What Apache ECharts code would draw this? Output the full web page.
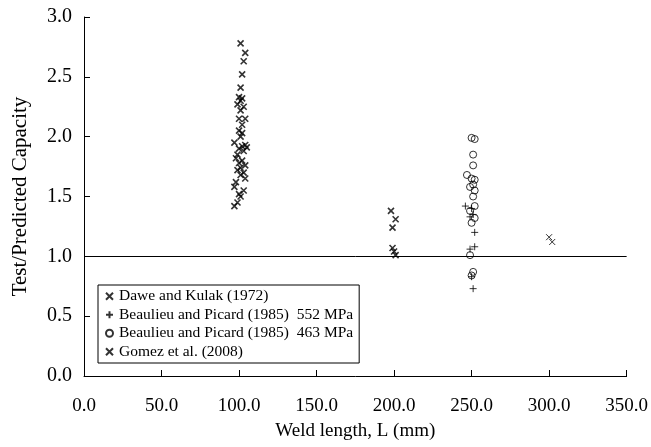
<!DOCTYPE html>
<html>
<head>
<meta charset="utf-8">
<script src="https://cdn.jsdelivr.net/npm/echarts@6/dist/echarts.min.js"></script>
<style>html,body{margin:0;padding:0;background:#fff}#c{width:651px;height:447px}</style>
</head>
<body>
<div id="c"></div>
<script>
// Dawe and Kulak (1972)
const daweX = [101,104,103,102,101,100,102,101,99,103,101,100,104,102,100,102,101,97,104,102,105,100,103,99,98,102,100,104,101,99,103,101,104,98,97,103,100,101,99,97,198,201,199,199,200,201];
const daweY = [2.78,2.70,2.63,2.52,2.41,2.33,2.32,2.30,2.27,2.25,2.22,2.15,2.15,2.10,2.05,2.03,2.00,1.95,1.93,1.92,1.91,1.90,1.88,1.85,1.82,1.80,1.78,1.76,1.74,1.72,1.70,1.68,1.65,1.62,1.58,1.55,1.52,1.50,1.45,1.42,1.38,1.31,1.24,1.07,1.04,1.01];
// Beaulieu and Picard (1985) 552 MPa
const bp552X = [246,250,251,249,252,252,249,250,251];
const bp552Y = [1.42,1.40,1.35,1.33,1.20,1.08,1.06,0.83,0.73];
// Beaulieu and Picard (1985) 463 MPa
const bp463X = [250,252,251,251,247,250,252,251,249,252,251,252,249,252,250,249,251,250];
const bp463Y = [1.99,1.98,1.85,1.76,1.68,1.65,1.64,1.60,1.58,1.55,1.50,1.42,1.38,1.32,1.28,1.01,0.87,0.84];
// Gomez et al. (2008)
const gomezX = [300,302];
const gomezY = [1.16,1.12];

const seriesNames = ['Dawe and Kulak (1972)', 'Beaulieu and Picard (1985)  552 MPa', 'Beaulieu and Picard (1985)  463 MPa', 'Gomez et al. (2008)'];
const refLine = 1.0;

const zip = (xs, ys) => xs.map((x, i) => [x, ys[i]]);
const FONT = 'Liberation Serif';
const FS = 19;
const X_PATH = 'path://M0,0L10,10M10,0L0,10';
const PLUS_PATH = 'path://M5,0L5,10M0,5L10,5';

const chart = echarts.init(document.getElementById('c'), null, {renderer: 'canvas'});
chart.setOption({
  animation: false,
  backgroundColor: '#fff',
  textStyle: {fontFamily: FONT, color: '#000'},
  grid: {left: 84, right: 23, top: 17, bottom: 71, containLabel: false},
  legend: {
    orient: 'vertical',
    left: 98, top: 285,
    padding: [2, 6, 2, 7],
    itemGap: 0,
    itemWidth: 7, itemHeight: 7,
    borderColor: '#000', borderWidth: 1,
    backgroundColor: '#fff',
    textStyle: {fontFamily: FONT, fontSize: 15.5, lineHeight: 18.5, color: '#000', padding: [0, 0, 0, 1]},
    data: seriesNames
  },
  xAxis: {
    type: 'value', min: 0, max: 350, interval: 50,
    name: 'Weld length, L (mm)', nameLocation: 'middle', nameGap: 46,
    nameTextStyle: {fontFamily: FONT, fontSize: 19, color: '#000'},
    axisLine: {show: true, onZero: false, lineStyle: {color: '#000', width: 1}},
    axisTick: {show: true, inside: true, length: 6, lineStyle: {color: '#000'}},
    axisLabel: {fontFamily: FONT, fontSize: FS, color: '#000', margin: 21, formatter: v => v.toFixed(1)},
    splitLine: {show: false}
  },
  yAxis: {
    type: 'value', min: 0, max: 3, interval: 0.5,
    name: 'Test/Predicted Capacity', nameLocation: 'middle', nameGap: 53,
    nameTextStyle: {fontFamily: FONT, fontSize: 21, color: '#000'},
    axisLine: {show: true, onZero: false, lineStyle: {color: '#000', width: 1}},
    axisTick: {show: true, inside: true, length: 6, lineStyle: {color: '#000'}},
    axisLabel: {fontFamily: FONT, fontSize: 20, color: '#000', margin: 12, formatter: v => v.toFixed(1)},
    splitLine: {show: false}
  },
  series: [
    {
      name: seriesNames[0], type: 'scatter', symbol: X_PATH, symbolSize: 6,
      itemStyle: {color: '#000', borderColor: '#000', borderWidth: 1.6},
      data: zip(daweX, daweY),
      markLine: {
        silent: true, symbol: 'none', label: {show: false},
        lineStyle: {color: '#000', width: 1, type: 'solid'},
        data: [{yAxis: refLine}]
      }
    },
    {
      name: seriesNames[1], type: 'scatter', symbol: PLUS_PATH, symbolSize: 7,
      itemStyle: {color: '#000', borderColor: '#000', borderWidth: 1},
      data: zip(bp552X, bp552Y)
    },
    {
      name: seriesNames[2], type: 'scatter', symbol: 'circle', symbolSize: 7,
      itemStyle: {color: 'rgba(255,255,255,0)', borderColor: '#000', borderWidth: 1},
      data: zip(bp463X, bp463Y)
    },
    {
      name: seriesNames[3], type: 'scatter', symbol: X_PATH, symbolSize: 6,
      itemStyle: {color: '#000', borderColor: '#000', borderWidth: 1},
      data: zip(gomezX, gomezY)
    }
  ]
});
</script>
</body>
</html>
